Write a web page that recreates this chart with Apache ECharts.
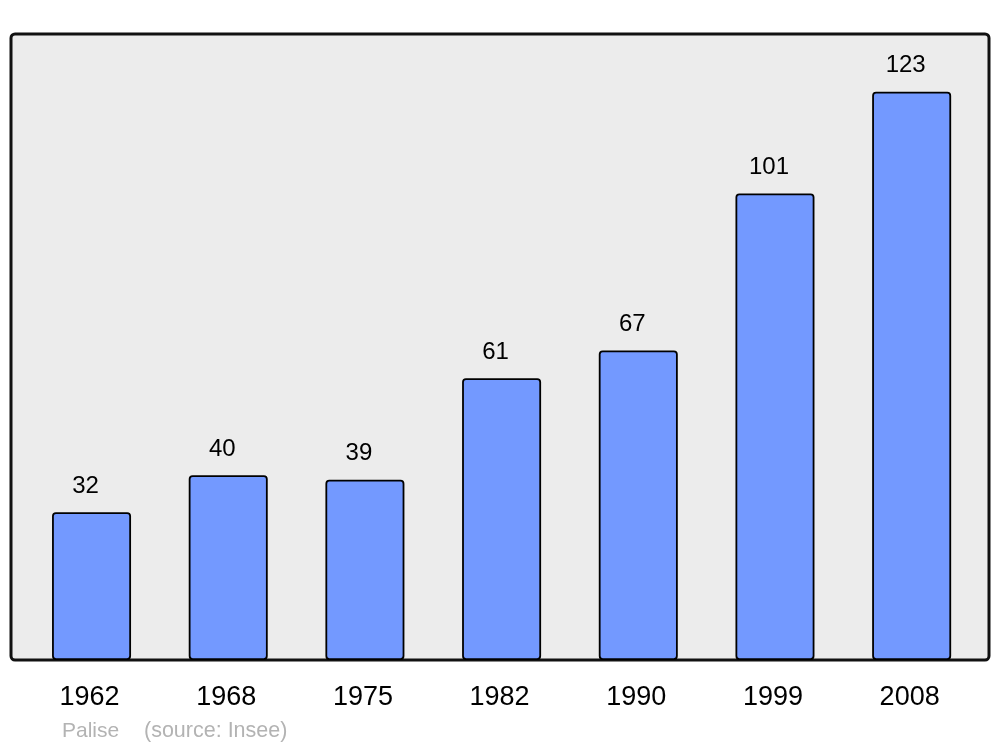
<!DOCTYPE html>
<html>
<head>
<meta charset="utf-8">
<script src="https://cdn.jsdelivr.net/npm/echarts@6/dist/echarts.min.js"></script>
<style>html,body{margin:0;padding:0;background:#fff}#c{width:1000px;height:747px}</style>
</head>
<body>
<div id="c"></div>
<script>
const years = ['1962','1968','1975','1982','1990','1999','2008'];
const population = [32, 40, 39, 61, 67, 101, 123];
const placeName = 'Palise';
const sourceText = '(source: Insee)';

const chart = echarts.init(document.getElementById('c'), null, {renderer: 'canvas'});
const font = 'Liberation Sans, Arial, sans-serif';
chart.setOption({
  animation: false,
  backgroundColor: '#ffffff',
  grid: {left: 23.2, right: 20, top: 34, bottom: 87, containLabel: false},
  graphic: [
    {type: 'rect', z: -10, silent: true,
     shape: {x: 11, y: 34, width: 978, height: 626, r: 4},
     style: {fill: '#ececec', stroke: '#111111', lineWidth: 3}},
    {type: 'text', left: 62, top: 721,
     style: {text: placeName, fill: '#b3b3b3', font: '21px ' + font}},
    {type: 'text', left: 144, top: 720,
     style: {text: sourceText, fill: '#b3b3b3', font: '21.5px ' + font}}
  ],
  xAxis: {
    type: 'category', data: years,
    axisLine: {show: false}, axisTick: {show: false},
    axisLabel: {color: '#000', fontSize: 27, fontFamily: font, margin: 24, padding: [0, 4, 0, 0]}
  },
  yAxis: {
    type: 'value', min: 0, max: 135.5,
    show: false, splitLine: {show: false}
  },
  series: [{
    type: 'bar', data: population, barWidth: 79,
    itemStyle: {color: '#7399ff', borderColor: '#000', borderWidth: 1.8, borderRadius: 3},
    label: {show: true, position: 'top', distance: 14, offset: [-6, 0], color: '#000', fontSize: 24, fontFamily: font}
  }]
});
</script>
</body>
</html>
